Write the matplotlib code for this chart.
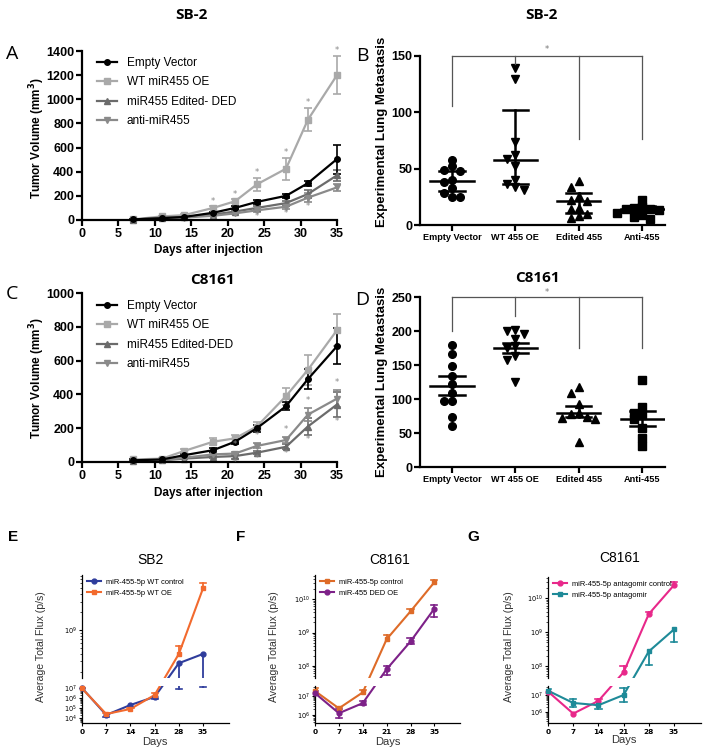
import numpy as np
import matplotlib
matplotlib.use('Agg')
import matplotlib.pyplot as plt
from matplotlib.lines import Line2D
from matplotlib.ticker import LogLocator, NullFormatter, LogFormatterMathtext

W, H = 703, 750

# ---- panels A / C : tumour growth ----
days_growth = [7, 11, 14, 18, 21, 24, 28, 31, 35]
growth_labels_sb2 = ['Empty Vector', 'WT miR455 OE', 'miR455 Edited- DED', 'anti-miR455']
growth_labels_c8161 = ['Empty Vector', 'WT miR455 OE', 'miR455 Edited-DED', 'anti-miR455']

sb2_empty = [5, 15, 25, 60, 100, 150, 200, 305, 505]
sb2_empty_err = [3, 5, 6, 10, 12, 15, 18, 22, 120]
sb2_wt = [5, 30, 40, 100, 155, 295, 425, 830, 1200]
sb2_wt_err = [3, 6, 8, 12, 15, 55, 90, 95, 155]
sb2_ded = [3, 20, 25, 45, 70, 100, 140, 215, 370]
sb2_ded_err = [2, 5, 5, 8, 10, 15, 20, 30, 45]
sb2_anti = [2, 15, 20, 35, 55, 80, 110, 185, 270]
sb2_anti_err = [2, 4, 5, 6, 8, 12, 20, 40, 30]
sb2_star_above = [18, 21, 24, 28, 31, 35]
sb2_star_below = [24, 28, 31]

c_empty = [10, 15, 40, 70, 120, 200, 330, 490, 685]
c_empty_err = [5, 5, 8, 10, 15, 20, 25, 60, 105]
c_wt = [15, 20, 65, 120, 140, 210, 390, 545, 780]
c_wt_err = [5, 6, 10, 20, 20, 25, 50, 90, 95]
c_ded = [5, 10, 20, 30, 35, 55, 90, 210, 340]
c_ded_err = [3, 4, 5, 8, 15, 10, 15, 50, 75]
c_anti = [8, 12, 25, 45, 50, 95, 130, 280, 375]
c_anti_err = [3, 4, 5, 8, 10, 15, 20, 40, 50]
c_star_days = [21, 24, 28, 31, 35]

# ---- panels B / D : lung metastasis ----
meta_groups = ['Empty Vector', 'WT 455 OE', 'Edited 455', 'Anti-455']
sb2_meta = [
    [58, 52, 49, 48, 40, 38, 33, 28, 25, 25],
    [139, 130, 74, 62, 59, 52, 40, 36, 34, 31],
    [39, 34, 26, 22, 21, 15, 14, 10, 8, 6],
    [22, 16, 15, 14, 14, 13, 11, 9, 7, 5],
]
sb2_meta_center = [39, 58, 21, 14]
sb2_meta_lo = [30, 36, 11, 11.5]
sb2_meta_hi = [48, 102, 28.5, 16.5]
sb2_bracket = [106, 143, 76, 76]

c_meta = [
    [180, 166, 149, 134, 122, 109, 97, 97, 74, 61],
    [202, 200, 196, 188, 178, 175, 163, 158, 125],
    [118, 109, 93, 80, 78, 74, 72, 71, 37],
    [128, 88, 80, 76, 70, 57, 42, 31],
]
c_meta_center = [119, 175, 80, 71]
c_meta_lo = [106, 167, 73, 60]
c_meta_hi = [134, 183, 89, 83]
c_bracket = [200, 222, 175, 175]

# ---- panels E / F / G : bioluminescence ----
flux_days = [0, 7, 14, 21, 28, 35]

e_ctrl = [1.0e7, 2.0e4, 2.0e5, 1.3e6, 2.8e8, 4.0e8]
e_ctrl_lo = [1.0e7, 1.2e4, 2.0e5, 8.0e5, 8.0e6, 1.2e7]
e_ctrl_hi = [1.0e7, 2.0e4, 2.0e5, 1.3e6, 2.8e8, 4.0e8]
e_oe = [9.0e6, 2.5e4, 8.0e4, 2.0e6, 4.0e8, 5.0e9]
e_oe_lo = [9.0e6, 2.5e4, 8.0e4, 2.0e6, 4.0e8, 5.0e9]
e_oe_hi = [1.1e7, 3.0e4, 1.0e5, 3.0e6, 5.4e8, 6.0e9]

f_ctrl = [1.9e7, 2.2e6, 1.6e7, 6.3e8, 4.3e9, 3.2e10]
f_ctrl_lo = [1.9e7, 2.2e6, 1.6e7, 6.3e8, 4.3e9, 3.2e10]
f_ctrl_hi = [2.6e7, 2.6e6, 2.2e7, 8.5e8, 5.0e9, 3.6e10]
f_ded = [1.45e7, 1.2e6, 4.2e6, 8.0e7, 5.4e8, 5.2e9]
f_ded_lo = [1.2e7, 7.0e5, 3.2e6, 5.5e7, 4.5e8, 3.0e9]
f_ded_hi = [1.8e7, 2.0e6, 5.5e6, 1.0e8, 7.0e8, 6.5e9]

g_ctrl = [1.6e7, 8.0e5, 4.5e6, 6.6e7, 3.4e9, 2.4e10]
g_ctrl_lo = [1.6e7, 8.0e5, 4.5e6, 6.6e7, 3.4e9, 2.4e10]
g_ctrl_hi = [1.6e7, 8.0e5, 6.0e6, 1.0e8, 4.0e9, 3.0e10]
g_anta = [1.8e7, 3.4e6, 2.5e6, 1.0e7, 2.7e8, 1.2e9]
g_anta_lo = [1.5e7, 2.0e6, 1.4e6, 4.0e6, 1.1e8, 5.0e8]
g_anta_hi = [2.2e7, 5.6e6, 2.5e6, 2.5e7, 2.7e8, 1.2e9]

ARIAL = 'Liberation Sans'
TITLE_FONT = 'Open Sans'

fig = plt.figure(figsize=(W / 100, H / 100), dpi=100)


def px_axes(left, top, right, bottom):
    return fig.add_axes([left / W, 1 - bottom / H, (right - left) / W, (bottom - top) / H])


def ftext(x, y, s, **kw):
    fig.text(x / W, 1 - y / H, s, **kw)


def style_bold_axes(ax, lw=1.6):
    for s in ('top', 'right'):
        ax.spines[s].set_visible(False)
    for s in ('left', 'bottom'):
        ax.spines[s].set_linewidth(lw)
    ax.tick_params(direction='out', length=4, width=lw, pad=1.5)


def growth_panel(ax, series, ymax, ystep, legend_labels, first_entry_dy):
    for (vals, errs, color, marker) in series:
        ax.errorbar(days_growth, vals, yerr=errs, color=color, marker=marker, ms=4,
                    lw=1.6, elinewidth=1.2, capsize=3, capthick=1.2, clip_on=False)
    style_bold_axes(ax)
    ax.set_xlim(0, 35)
    ax.set_ylim(0, ymax)
    ax.set_xticks(range(0, 36, 5))
    ax.set_yticks(range(0, ymax + 1, ystep))
    for lab in ax.get_xticklabels() + ax.get_yticklabels():
        lab.set_fontfamily(ARIAL)
        lab.set_fontweight('bold')
        lab.set_fontsize(9)
    order = [3, 0, 1, 2]
    handles = [Line2D([], [], color=series[i][2], marker=series[i][3], ms=4, lw=1.6) for i in order]
    ax.legend(handles, legend_labels, loc='upper left',
              bbox_to_anchor=(15 / 255, 1 - first_entry_dy / 169),
              borderaxespad=0, borderpad=0, frameon=False, handlelength=1.7,
              handletextpad=0.8, labelspacing=0.62, prop={'family': ARIAL, 'size': 8.5})


def swarm_offsets(vals, thr, step):
    placed = []
    offs = []
    for v in vals:
        for k in [0, -1, 1, -2, 2, -3, 3]:
            dx = k * step
            if all(abs(v - pv) > thr or abs(dx - px) > step * 0.9 for pv, px in placed):
                break
        placed.append((v, dx))
        offs.append(dx)
    return offs


def meta_panel(ax, data, centers, lo, hi, ymax, ystep, drops, star_y):
    markers = ['o', 'v', '^', 's']
    thr = ymax / 169 * 6.5
    for i, vals in enumerate(data):
        offs = swarm_offsets(vals, thr, 0.13)
        ax.plot([i + o for o in offs], vals, ls='none', marker=markers[i], ms=5.5,
                color='black', clip_on=False)
        ax.plot([i - 0.34, i + 0.34], [centers[i]] * 2, color='black', lw=1.8)
        ax.plot([i, i], [lo[i], hi[i]], color='black', lw=1.8)
        for e in (lo[i], hi[i]):
            ax.plot([i - 0.2, i + 0.2], [e, e], color='black', lw=1.8)
    # significance bracket
    ax.plot([0, 3], [ymax, ymax], color='#555555', lw=0.9, clip_on=False)
    for i, d in enumerate(drops):
        ax.plot([i, i], [ymax, d], color='#555555', lw=0.9, clip_on=False)
    ax.text(1.5, star_y, '*', ha='center', va='center', fontsize=6, color='#777777')
    style_bold_axes(ax)
    ax.set_xlim(-0.505, 3.36)
    ax.set_ylim(0, ymax)
    ax.set_yticks(range(0, ymax + 1, ystep))
    ax.set_xticks(range(4))
    ax.set_xticklabels(meta_groups)
    for lab in ax.get_xticklabels():
        lab.set_fontfamily(ARIAL)
        lab.set_fontweight('bold')
        lab.set_fontsize(6.6)
    for lab in ax.get_yticklabels():
        lab.set_fontfamily(ARIAL)
        lab.set_fontweight('bold')
        lab.set_fontsize(9)


def broken_panel(left, right, up_top, lo_top, up_lim, lo_lim, series):
    up_bot, lo_bot = 678, 723
    ax_up = px_axes(left, up_top, right, up_bot)
    ax_lo = px_axes(left, lo_top, right, lo_bot)
    for ax, lim in ((ax_up, up_lim), (ax_lo, lo_lim)):
        ax.set_yscale('log')
        ax.set_ylim(*lim)
        ax.set_xlim(0, 42.5)
        for s in ('top', 'right'):
            ax.spines[s].set_visible(False)
        ax.spines['left'].set_linewidth(0.9)
        ax.spines['bottom'].set_linewidth(0.9)
        ax.yaxis.set_major_locator(LogLocator(base=10, numticks=20))
        ax.yaxis.set_major_formatter(LogFormatterMathtext())
        ax.yaxis.set_minor_locator(LogLocator(base=10, subs=np.arange(2, 10), numticks=20))
        ax.yaxis.set_minor_formatter(NullFormatter())
        ax.tick_params(axis='y', which='major', length=2.5, width=0.8, pad=1, labelsize=4.8)
        ax.tick_params(axis='y', which='minor', length=1.3, width=0.5)
    ax_up.spines['bottom'].set_visible(False)
    ax_up.set_xticks([])
    ax_lo.set_xticks(flux_days)
    ax_lo.tick_params(axis='x', length=2.5, width=0.8, pad=1.5)
    for lab in ax_lo.get_xticklabels():
        lab.set_fontsize(5.3)
        lab.set_fontweight('bold')

    def owner(y):
        return ax_up if y > lo_lim[1] else ax_lo

    def disp(x, y):
        return owner(y).transData.transform((x, y))

    handles = []
    for vals, lows, highs, color, marker, label in series:
        pts = np.array([disp(x, y) for x, y in zip(flux_days, vals)])
        for ax in (ax_up, ax_lo):
            d = ax.transData.inverted().transform(pts)
            ax.plot(d[:, 0], d[:, 1], color=color, lw=1.5, zorder=2)
            for x, y, l, h in zip(flux_days, vals, lows, highs):
                if l == h:
                    continue
                seg = ax.transData.inverted().transform([disp(x, l), disp(x, h)])
                ax.plot(seg[:, 0], seg[:, 1], color=color, lw=1.3, zorder=2)
        for x, y, l, h in zip(flux_days, vals, lows, highs):
            owner(y).plot([x], [y], marker=marker, ms=3.5, color=color, zorder=3, clip_on=False)
            for e in (l, h):
                if e != y:
                    owner(e).plot([x - 0.9, x + 0.9], [e, e], color=color, lw=1.2, zorder=2)
        handles.append(Line2D([], [], color=color, marker=marker, ms=3.5, lw=1.5))
    ax_up.legend(handles, [s[5] for s in series], loc='upper left',
                 bbox_to_anchor=(5 / (right - left), 1 - 3.5 / (up_bot - up_top)),
                 frameon=False, handlelength=1.9, handletextpad=0.6,
                 labelspacing=0.5, borderaxespad=0, borderpad=0,
                 prop={'family': ARIAL, 'size': 5.4})
    return ax_up, ax_lo


# ---------- Panel A ----------
axA = px_axes(82, 51, 337, 220)
sb2_series = [
    (sb2_wt, sb2_wt_err, '#a9a9a9', 's'),
    (sb2_ded, sb2_ded_err, '#6b6b6b', '^'),
    (sb2_anti, sb2_anti_err, '#8a8a8a', 'v'),
    (sb2_empty, sb2_empty_err, 'black', 'o'),
]
growth_panel(axA, sb2_series, 1400, 200, growth_labels_sb2, 6)
for d in sb2_star_above:
    i = days_growth.index(d)
    axA.text(d, sb2_wt[i] + sb2_wt_err[i] + 45, '*', ha='center', va='center', fontsize=6, color='#888888')
for d in sb2_star_below:
    i = days_growth.index(d)
    axA.text(d, sb2_anti[i] - sb2_anti_err[i] - 35, '*', ha='center', va='center', fontsize=6, color='#888888')

# ---------- Panel C ----------
axC = px_axes(82, 293, 337, 462)
c_series = [
    (c_wt, c_wt_err, '#a9a9a9', 's'),
    (c_ded, c_ded_err, '#6b6b6b', '^'),
    (c_anti, c_anti_err, '#8a8a8a', 'v'),
    (c_empty, c_empty_err, 'black', 'o'),
]
growth_panel(axC, c_series, 1000, 200, growth_labels_c8161, 7)
for d in c_star_days:
    i = days_growth.index(d)
    axC.text(d, c_anti[i] + c_anti_err[i] + 45, '*', ha='center', va='center', fontsize=6, color='#888888')
    axC.text(d, c_ded[i] - c_ded_err[i] - 25, '*', ha='center', va='center', fontsize=6, color='#888888')

# ---------- Panels B / D ----------
axB = px_axes(420, 56, 665, 225)
meta_panel(axB, sb2_meta, sb2_meta_center, sb2_meta_lo, sb2_meta_hi, 150, 50, sb2_bracket, 156)
axD = px_axes(420, 297, 665, 467)
meta_panel(axD, c_meta, c_meta_center, c_meta_lo, c_meta_hi, 250, 50, c_bracket, 257)

# ---------- Panels E / F / G ----------
broken_panel(82, 229, 575, 686, (10 ** 8.2, 10 ** 9.92), (10 ** 3.5, 10 ** 7.2), [
    (e_ctrl, e_ctrl_lo, e_ctrl_hi, '#2f3d9c', 'o', 'miR-455-5p WT control'),
    (e_oe, e_oe_lo, e_oe_hi, '#f26a2e', 's', 'miR-455-5p WT OE'),
])
broken_panel(315, 460, 575, 686, (10 ** 7.64, 10 ** 10.72), (10 ** 5.55, 10 ** 7.55), [
    (f_ctrl, f_ctrl_lo, f_ctrl_hi, '#de6b28', 's', 'miR-455-5p control'),
    (f_ded, f_ded_lo, f_ded_hi, '#7d2188', 'o', 'miR-455 DED OE'),
])
broken_panel(548, 701, 577, 686, (10 ** 7.65, 10 ** 10.62), (10 ** 5.35, 10 ** 7.53), [
    (g_ctrl, g_ctrl_lo, g_ctrl_hi, '#e8288a', 'o', 'miR-455-5p antagomir control'),
    (g_anta, g_anta_lo, g_anta_hi, '#1e8a98', 's', 'miR-455-5p antagomir'),
])

# ---------- text ----------
bold_lab = dict(fontfamily=ARIAL, fontweight='bold', ha='center', va='center')
ftext(37, 138, 'Tumor Volume (mm$^\\mathbf{3}$)', rotation=90, fontsize=8.5, **bold_lab)
ftext(208, 250, 'Days after injection', fontsize=8.5, **bold_lab)
ftext(37, 378, 'Tumor Volume (mm$^\\mathbf{3}$)', rotation=90, fontsize=8.5, **bold_lab)
ftext(208, 493, 'Days after injection', fontsize=8.5, **bold_lab)
ftext(382, 132, 'Experimental Lung Metastasis', rotation=90, fontsize=9.5, **bold_lab)
ftext(382, 382, 'Experimental Lung Metastasis', rotation=90, fontsize=9.5, **bold_lab)

title_kw = dict(fontfamily=TITLE_FONT, fontweight='bold', fontsize=11, ha='center', va='center')
ftext(191, 15, 'SB-2', **title_kw)
ftext(541, 15, 'SB-2', **title_kw)
ftext(212, 280, 'C8161', **title_kw)
ftext(537, 278, 'C8161', **title_kw)

letter_kw = dict(fontfamily=TITLE_FONT, fontsize=14, ha='center', va='center')
ftext(12, 54, 'A', **letter_kw)
ftext(362, 56, 'B', **letter_kw)
ftext(12, 294, 'C', **letter_kw)
ftext(362, 300, 'D', **letter_kw)

gl_kw = dict(fontfamily=ARIAL, fontweight='bold', fontsize=11, ha='center', va='center')
ftext(13, 537, 'E', **gl_kw)
ftext(241, 537, 'F', **gl_kw)
ftext(473, 537, 'G', **gl_kw)

sub_title = dict(fontfamily=ARIAL, fontsize=10, ha='center', va='center')
ftext(151, 560, 'SB2', **sub_title)
ftext(390, 560, 'C8161', **sub_title)
ftext(620, 558, 'C8161', **sub_title)

ylab_kw = dict(fontfamily=ARIAL, fontsize=7.6, ha='center', va='center', rotation=90, color='#333333')
ftext(41, 647, 'Average Total Flux (p/s)', **ylab_kw)
ftext(274, 647, 'Average Total Flux (p/s)', **ylab_kw)
ftext(509, 647, 'Average Total Flux (p/s)', **ylab_kw)
xlab_kw = dict(fontfamily=ARIAL, fontsize=8, ha='center', va='center', color='#333333')
ftext(155, 742, 'Days', **xlab_kw)
ftext(388, 742, 'Days', **xlab_kw)
ftext(624, 740, 'Days', **xlab_kw)

fig.savefig('out.png', dpi=100)
